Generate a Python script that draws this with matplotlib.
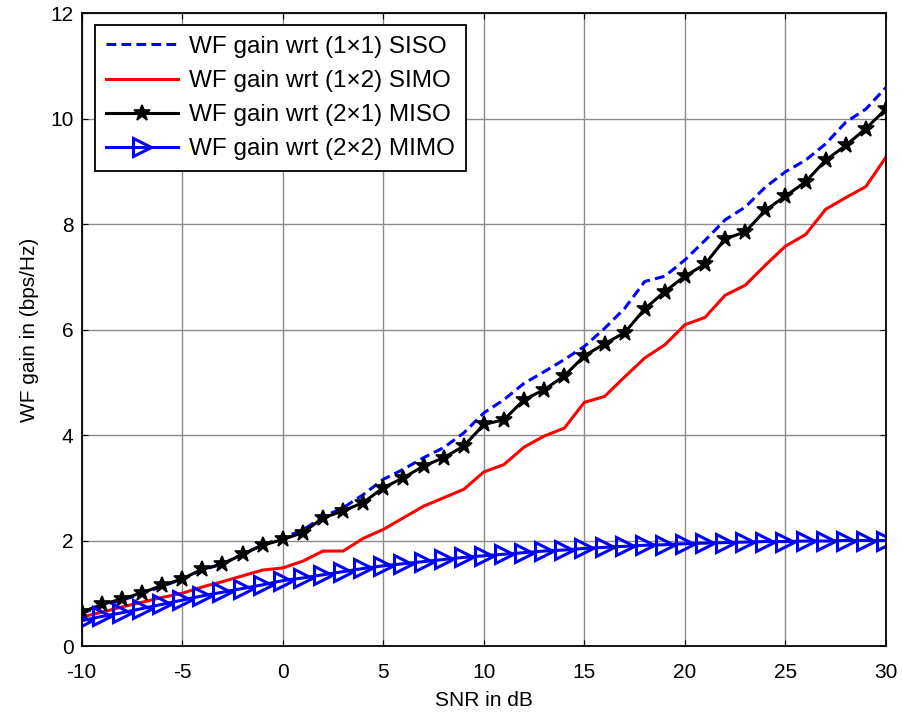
import matplotlib
matplotlib.use("Agg")
import matplotlib.pyplot as plt
import numpy as np

plt.rcParams['font.family'] = ['Liberation Sans', 'DejaVu Sans']
plt.rcParams['axes.unicode_minus'] = False

snr = list(range(-10, 31))

siso = [0.62, 0.76, 0.87, 0.99, 1.13, 1.27, 1.44, 1.56, 1.74, 1.92,
        2.05, 2.20, 2.45, 2.62, 2.87, 3.16, 3.35, 3.57, 3.76, 4.04,
        4.42, 4.67, 4.98, 5.20, 5.43, 5.68, 6.02, 6.40, 6.91, 7.01,
        7.32, 7.69, 8.08, 8.32, 8.70, 8.99, 9.21, 9.52, 9.93, 10.18, 10.59]

simo = [0.55, 0.64, 0.74, 0.83, 0.92, 1.00, 1.12, 1.22, 1.33, 1.44,
        1.48, 1.61, 1.80, 1.80, 2.04, 2.21, 2.43, 2.65, 2.81, 2.97,
        3.30, 3.44, 3.77, 3.98, 4.13, 4.62, 4.73, 5.10, 5.46, 5.71,
        6.09, 6.23, 6.65, 6.84, 7.22, 7.58, 7.80, 8.28, 8.50, 8.71, 9.27]

miso = [0.64, 0.79, 0.89, 1.01, 1.15, 1.27, 1.46, 1.55, 1.74, 1.91,
        2.02, 2.15, 2.43, 2.56, 2.72, 3.00, 3.19, 3.41, 3.57, 3.79,
        4.20, 4.29, 4.67, 4.86, 5.12, 5.50, 5.73, 5.94, 6.39, 6.72,
        7.01, 7.24, 7.72, 7.85, 8.26, 8.53, 8.80, 9.21, 9.49, 9.81, 10.18]

mimo = [0.48, 0.56, 0.63, 0.71, 0.79, 0.87, 0.95, 1.02, 1.09, 1.16,
        1.24, 1.29, 1.35, 1.41, 1.47, 1.52, 1.56, 1.60, 1.64, 1.68,
        1.71, 1.74, 1.77, 1.80, 1.82, 1.85, 1.87, 1.89, 1.91, 1.92,
        1.94, 1.95, 1.96, 1.97, 1.98, 1.98, 1.99, 1.99, 2.00, 2.00, 2.00]

labels = ["WF gain wrt (1\u00d71) SISO", "WF gain wrt (1\u00d72) SIMO",
          "WF gain wrt (2\u00d71) MISO", "WF gain wrt (2\u00d72) MIMO"]

fig = plt.figure(figsize=(9.04, 7.15), dpi=100)
ax = fig.add_axes([0.0904, 0.0965, 0.8897, 0.8853])

ax.plot(snr, siso, color='#0000ff', linestyle='--', linewidth=2.2, dashes=(3.2, 1.7), label=labels[0])
ax.plot(snr, simo, color='#ff0000', linestyle='-', linewidth=2.2, label=labels[1])
ax.plot(snr, miso, color='black', linestyle='-', linewidth=2.2, marker='*', markersize=12,
        markeredgewidth=1.2, label=labels[2])
ax.plot(snr, mimo, color='#0000ff', linestyle='-', linewidth=2.2, marker='>', markersize=13,
        markerfacecolor='none', markeredgewidth=2.2, label=labels[3])

ax.set_xlim(-10, 30)
ax.set_ylim(0, 12)
ax.set_xticks(range(-10, 31, 5))
ax.set_yticks(range(0, 13, 2))
ax.grid(True, color='#8c8c8c', linewidth=1.0)
ax.tick_params(direction='in', top=True, right=True, labelsize=15, length=4)
ax.tick_params(axis='x', pad=12)
ax.tick_params(axis='y', pad=6)
for s in ax.spines.values():
    s.set_linewidth(1.3)

ax.set_xlabel("SNR in dB", fontsize=15, labelpad=7)
ax.set_ylabel("WF gain in (bps/Hz)", fontsize=15, labelpad=8)

leg = ax.legend(loc='upper left', fontsize=17.5, frameon=True, fancybox=False,
                edgecolor='black', framealpha=1, handlelength=3.0, handletextpad=0.45,
                borderpad=0.45, labelspacing=0.5, borderaxespad=0,
                bbox_to_anchor=(0.016, 0.981))
leg.get_frame().set_linewidth(1.3)

fig.savefig("out.png", dpi=100)
